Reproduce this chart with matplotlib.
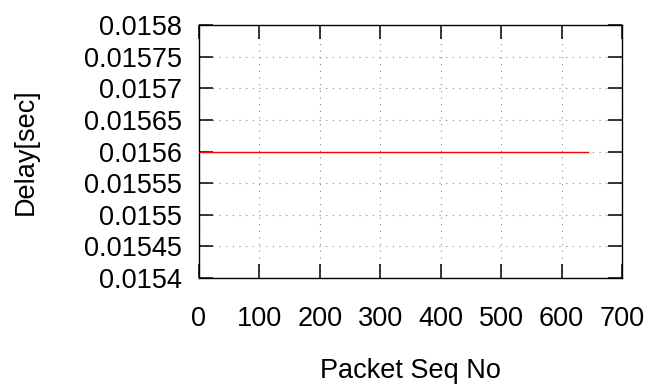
import matplotlib
matplotlib.use("Agg")
import matplotlib.pyplot as plt

# Packet delay trace (constant delay over all packets)
seq_no = [0, 643]
delay = [0.0156, 0.0156]

x_ticks = [0, 100, 200, 300, 400, 500, 600, 700]
y_ticks = [0.0154, 0.01545, 0.0155, 0.01555, 0.0156, 0.01565, 0.0157, 0.01575, 0.0158]
y_tick_labels = ["0.0154", "0.01545", "0.0155", "0.01555", "0.0156",
                 "0.01565", "0.0157", "0.01575", "0.0158"]

plt.rcParams["font.family"] = ["Liberation Sans", "DejaVu Sans"]

fig = plt.figure(figsize=(6.52, 3.88), dpi=100)
ax = fig.add_axes([0.305, 0.2835, 0.649, 0.652])

ax.plot(seq_no, delay, color="#ff0000", linewidth=1.0, zorder=3)

ax.set_xlim(0, 700)
ax.set_ylim(0.0154, 0.0158)
ax.set_xticks(x_ticks)
ax.set_yticks(y_ticks)
ax.set_yticklabels(y_tick_labels)

ax.grid(True, color="#888888", linestyle=(0, (1, 5)), linewidth=0.8)
ax.tick_params(direction="in", length=10, width=1.1, top=True, right=True,
               labelsize=19.5, colors="black")
ax.tick_params(axis="x", pad=20)
ax.tick_params(axis="y", pad=12)
for s in ax.spines.values():
    s.set_linewidth(1.0)

ax.set_xlabel("Packet Seq No", fontsize=19.5, labelpad=19)
ax.set_ylabel("Delay[sec]", fontsize=19.5, labelpad=33)

fig.savefig("out.png", dpi=100)
